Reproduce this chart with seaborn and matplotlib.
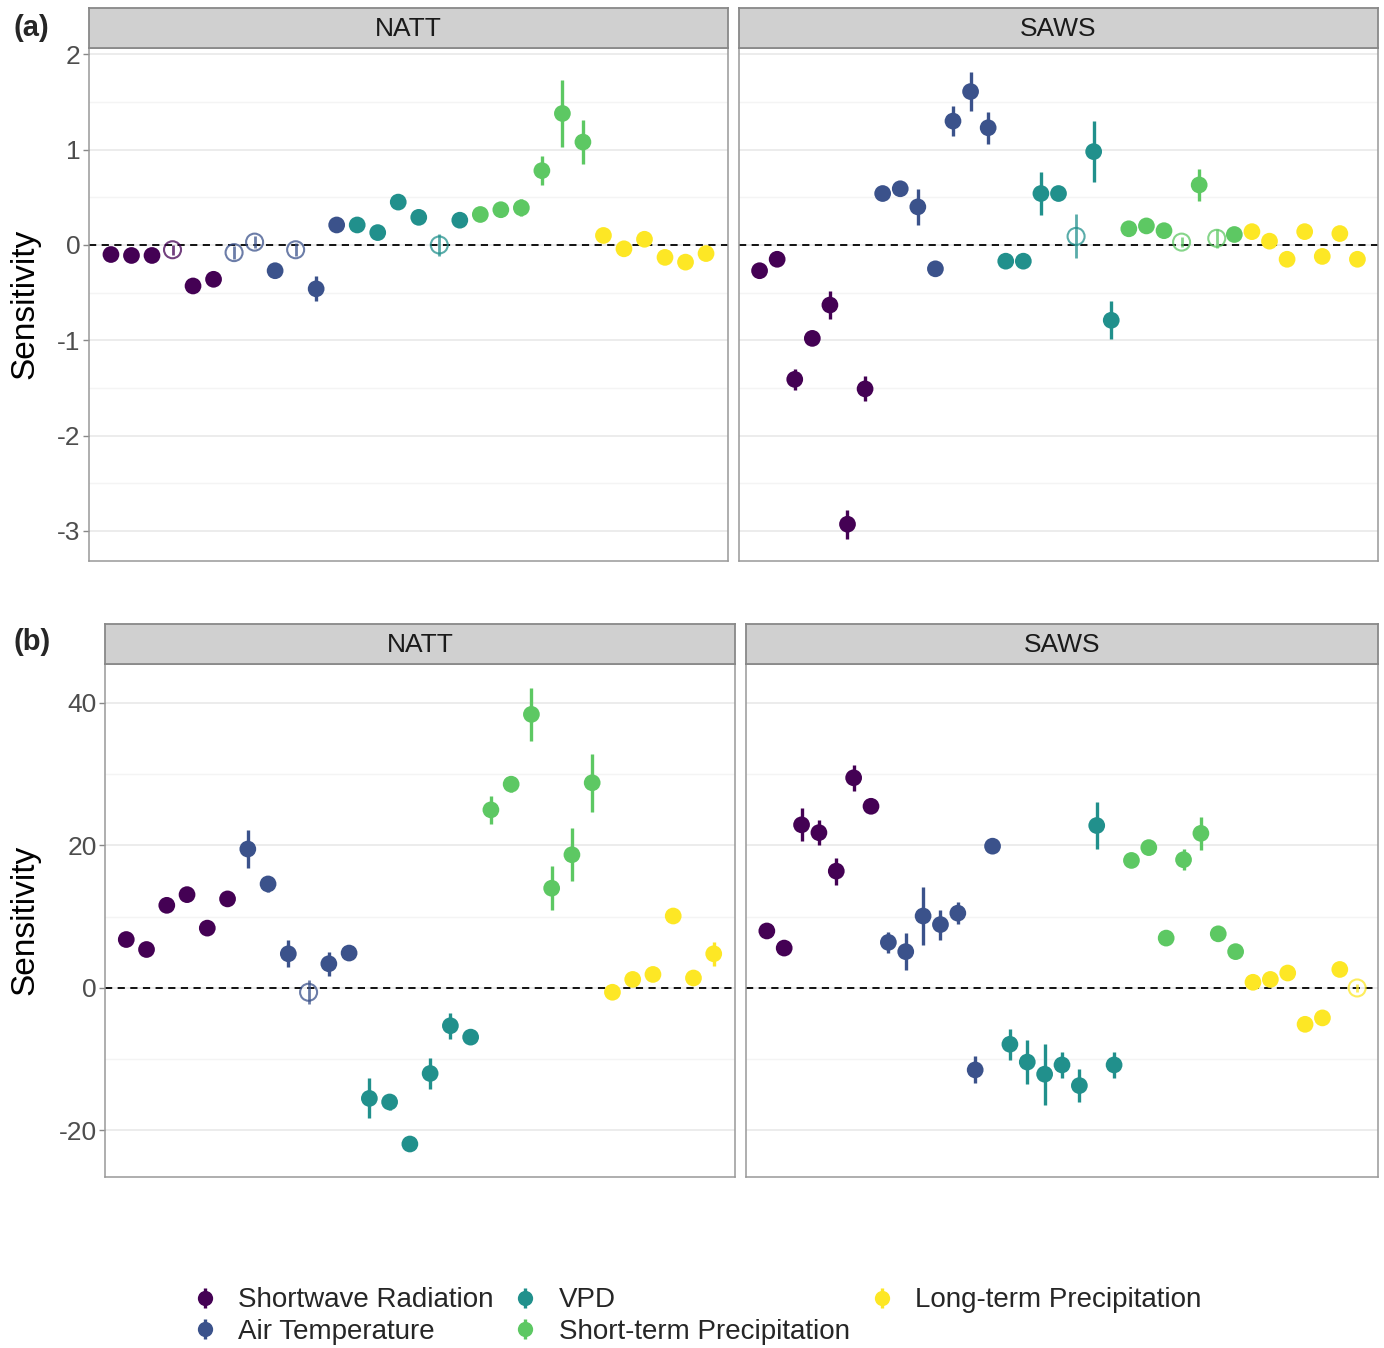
import numpy as np
import pandas as pd
import matplotlib
matplotlib.use("Agg")
import matplotlib.pyplot as plt
import seaborn as sns
from matplotlib.lines import Line2D

# === Daten ===
groups = ["Shortwave Radiation", "Air Temperature", "VPD",
          "Short-term Precipitation", "Long-term Precipitation"]
colors = ["#440154", "#3B528B", "#21908C", "#5DC863", "#FDE725"]
facets = ["NATT", "SAWS"]

# (a) NATT: 6 Punkte pro Gruppe
a_natt_val = [-0.10, -0.11, -0.11, -0.05, -0.43, -0.36,
              -0.08, 0.03, -0.27, -0.05, -0.46, 0.21,
              0.21, 0.13, 0.45, 0.29, 0.00, 0.26,
              0.32, 0.37, 0.39, 0.78, 1.38, 1.08,
              0.10, -0.04, 0.06, -0.13, -0.18, -0.09]
a_natt_err = [0.03, 0.03, 0.03, 0.05, 0.04, 0.04,
              0.07, 0.06, 0.04, 0.07, 0.13, 0.04,
              0.04, 0.04, 0.05, 0.07, 0.12, 0.04,
              0.04, 0.05, 0.09, 0.15, 0.35, 0.23,
              0.03, 0.03, 0.03, 0.03, 0.03, 0.03]
a_natt_hollow = [4, 7, 8, 10, 17]

# (a) SAWS: 7 Punkte pro Gruppe
a_saws_val = [-0.27, -0.15, -1.41, -0.98, -0.63, -2.93, -1.51,
              0.54, 0.59, 0.40, -0.25, 1.30, 1.61, 1.23,
              -0.17, -0.17, 0.54, 0.54, 0.09, 0.98, -0.79,
              0.17, 0.20, 0.15, 0.03, 0.63, 0.07, 0.11,
              0.14, 0.04, -0.15, 0.14, -0.12, 0.12, -0.15]
a_saws_err = [0.04, 0.04, 0.11, 0.07, 0.15, 0.15, 0.13,
              0.04, 0.04, 0.19, 0.04, 0.16, 0.20, 0.17,
              0.04, 0.04, 0.23, 0.06, 0.23, 0.32, 0.20,
              0.04, 0.04, 0.04, 0.05, 0.17, 0.10, 0.04,
              0.04, 0.04, 0.04, 0.04, 0.06, 0.04, 0.04]
a_saws_hollow = [19, 25, 27]

# (b) NATT
b_natt_val = [6.8, 5.4, 11.6, 13.1, 8.4, 12.5,
              19.5, 14.6, 4.8, -0.6, 3.4, 4.9,
              -15.5, -16.0, -21.9, -12.0, -5.3, -6.9,
              25.0, 28.6, 38.4, 14.0, 18.7, 28.8,
              -0.6, 1.2, 1.9, 10.1, 1.4, 4.8]
b_natt_err = [0.5, 0.5, 0.5, 0.5, 0.5, 0.5,
              2.7, 1.1, 1.9, 1.7, 1.7, 0.5,
              2.8, 1.1, 0.8, 2.2, 1.8, 1.0,
              2.0, 1.1, 3.7, 3.1, 3.7, 4.1,
              0.5, 0.5, 0.5, 0.5, 0.5, 1.7]
b_natt_hollow = [10]

# (b) SAWS
b_saws_val = [8.0, 5.6, 22.9, 21.8, 16.4, 29.5, 25.5,
              6.4, 5.1, 10.1, 8.9, 10.5, -11.5, 19.9,
              -7.9, -10.4, -12.1, -10.8, -13.7, 22.8, -10.8,
              17.9, 19.7, 7.0, 18.0, 21.7, 7.6, 5.1,
              0.8, 1.2, 2.1, -5.1, -4.2, 2.6, 0.0]
b_saws_err = [0.5, 0.5, 2.3, 1.8, 1.9, 1.8, 0.8,
              1.5, 2.6, 4.1, 2.1, 1.5, 1.9, 0.8,
              2.2, 3.1, 4.3, 1.8, 2.3, 3.3, 1.8,
              0.5, 0.8, 0.5, 1.5, 2.3, 0.5, 0.5,
              0.5, 0.5, 0.5, 0.5, 0.5, 0.5, 0.5]
b_saws_hollow = [35]

a_ticks = [2, 1, 0, -1, -2, -3]
b_ticks = [40, 20, 0, -20]

# === Stil ===
sns.set_theme(style="white")
plt.rcParams["font.family"] = ["Liberation Sans", "DejaVu Sans"]
palette = dict(zip(groups, colors))

W, H = 1384, 1348
fig = plt.figure(figsize=(W / 100, H / 100), dpi=100)


def px_axes(x0, y0, x1, y1):
    # Pixelkoordinaten (oben links) -> Figure-Koordinaten
    return fig.add_axes([x0 / W, 1 - y1 / H, (x1 - x0) / W, (y1 - y0) / H])


def facet(box, strip_label, values, errors, hollow, n_per_group, pad,
          ylim, ticks, minor_step, show_labels):
    x0, y0, x1, y1 = box
    ax = px_axes(x0, y0, x1, y1)
    df = pd.DataFrame({
        "pos": np.arange(1, len(values) + 1),
        "value": values,
        "err": errors,
        "group": np.repeat(groups, n_per_group),
    })
    df["sig"] = ~df["pos"].isin(hollow)
    df["color"] = df["group"].map(palette)

    ax.axhline(0, color="black", lw=1.3, ls=(0, (4, 3)), zorder=1)

    filled = df[df["sig"]]
    ax.vlines(filled["pos"], filled["value"] - filled["err"],
              filled["value"] + filled["err"], colors=filled["color"],
              lw=2.4, zorder=2)
    sns.scatterplot(data=filled, x="pos", y="value", hue="group",
                    palette=palette, s=145, edgecolor="none",
                    legend=False, ax=ax, zorder=3)

    open_ = df[~df["sig"]]
    ax.vlines(open_["pos"], open_["value"] - open_["err"],
              open_["value"] + open_["err"], colors=open_["color"],
              lw=2.0, alpha=0.75, zorder=2)
    ax.scatter(open_["pos"], open_["value"], s=150, facecolors="none",
               edgecolors=open_["color"], linewidths=1.5, alpha=0.75,
               zorder=3)

    ax.set_xticks([])
    ax.set_yticks(ticks)
    minor = np.arange(ticks[-1] - minor_step, ticks[0] + minor_step * 2, minor_step)
    minor = [m for m in minor if ylim[0] < m < ylim[1] and m not in ticks]
    ax.set_yticks(minor, minor=True)
    ax.set_xlim(1 - pad, len(values) + pad)
    ax.set_ylim(*ylim)
    ax.grid(axis="y", which="major", color="#EBEBEB", lw=1.3, zorder=0)
    ax.grid(axis="y", which="minor", color="#F4F4F4", lw=1.0, zorder=0)
    ax.grid(axis="x", visible=False)
    ax.set_axisbelow(True)
    ax.tick_params(axis="y", which="major", left=True, length=4, width=1,
                   color="#888888", pad=2, labelsize=19, labelcolor="#4D4D4D")
    ax.tick_params(axis="y", which="minor", length=0)
    if show_labels:
        ax.set_yticklabels([str(t) for t in ticks])
    else:
        ax.tick_params(axis="y", which="major", left=False, labelleft=False)
    ax.set_xlabel("")
    ax.set_ylabel("")
    for sp in ax.spines.values():
        sp.set_color("#999999")
        sp.set_linewidth(1.1)

    # Facetten-Streifen
    st = px_axes(x0, y0 - 40, x1, y0)
    st.set_facecolor("#D0D0D0")
    st.set_xticks([])
    st.set_yticks([])
    for sp in st.spines.values():
        sp.set_color("#888888")
        sp.set_linewidth(1.3)
    st.text(0.5, 0.47, strip_label, ha="center", va="center",
            fontsize=19, color="#1A1A1A", transform=st.transAxes)
    return ax


# Panel (a)
facet((89, 48, 728, 561), "NATT", a_natt_val, a_natt_err, a_natt_hollow, 6,
      1.07, (-3.316, 2.067), a_ticks, 0.5, True)
facet((739, 48, 1378, 561), "SAWS", a_saws_val, a_saws_err, a_saws_hollow, 7,
      1.17, (-3.316, 2.067), a_ticks, 0.5, False)

# Panel (b)
facet((105, 664, 735, 1177), "NATT", b_natt_val, b_natt_err, b_natt_hollow, 6,
      1.05, (-26.53, 45.47), b_ticks, 10, True)
facet((746, 664, 1378, 1177), "SAWS", b_saws_val, b_saws_err, b_saws_hollow, 7,
      1.2, (-26.53, 45.47), b_ticks, 10, False)

# Achsentitel und Panelbuchstaben
fig.text(25 / W, 1 - 304 / H, "Sensitivity", rotation=90, ha="center",
         va="center", fontsize=24, color="black")
fig.text(25 / W, 1 - 920 / H, "Sensitivity", rotation=90, ha="center",
         va="center", fontsize=24, color="black")
fig.text(31 / W, 1 - 28 / H, "(a)", ha="center", va="center",
         fontsize=21, fontweight="bold")
fig.text(32 / W, 1 - 642 / H, "(b)", ha="center", va="center",
         fontsize=21, fontweight="bold")

# Legende
handles = []
for c in colors:
    bar = Line2D([], [], marker="|", ms=15, mew=2.4, color=c, ls="none")
    dot = Line2D([], [], marker="o", ms=11, color=c, mec="none", ls="none")
    handles.append((bar, dot))
fig.legend(handles, groups, loc="center", bbox_to_anchor=(0.503, 1 - 1316 / H),
           ncol=3, frameon=False, fontsize=20, handlelength=1.0,
           handletextpad=0.7, columnspacing=0.65, labelspacing=0.2,
           borderaxespad=0)

fig.savefig("out.png", dpi=100)
